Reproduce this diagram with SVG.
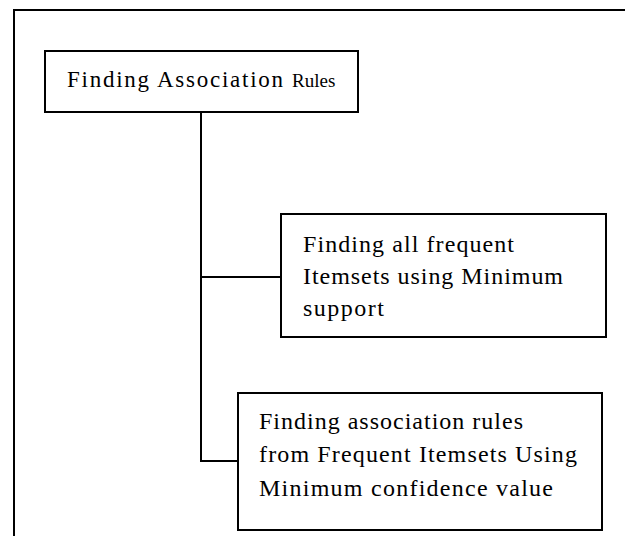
<svg xmlns="http://www.w3.org/2000/svg" width="625" height="536" viewBox="0 0 625 536">
<style>
.box{fill:#fff;stroke:#000;stroke-width:2}
.frame{fill:none;stroke:#000;stroke-width:2}
.conn{fill:none;stroke:#000;stroke-width:2}
.t{font-family:'Liberation Serif','Times New Roman',serif;font-size:24px;fill:#000}
.top{font-size:23px}
.small{font-size:19px}
</style>
<rect width="625" height="536" fill="#fff"/>
<path class="frame" d="M14,545 V10 H630"/>
<g id="connectors">
<path class="conn" d="M201,112 V461 H238"/>
<path class="conn" d="M201,277 H281"/>
</g>
<g id="root">
<rect class="box" x="45" y="51" width="313" height="61"/>
<text class="t top" x="67" y="87"><tspan textLength="216" lengthAdjust="spacing">Finding Association</tspan><tspan class="small" x="292">Rules</tspan></text>
</g>
<g id="frequent">
<rect class="box" x="281" y="214" width="325" height="123"/>
<text class="t" x="303" y="252" textLength="211" lengthAdjust="spacing">Finding all frequent</text>
<text class="t" x="303" y="284" textLength="260" lengthAdjust="spacing">Itemsets using Minimum</text>
<text class="t" x="303" y="316" textLength="81" lengthAdjust="spacing">support</text>
</g>
<g id="rules">
<rect class="box" x="238" y="393" width="364" height="137"/>
<text class="t" x="259" y="429" textLength="264" lengthAdjust="spacing">Finding association rules</text>
<text class="t" x="259" y="462" textLength="318" lengthAdjust="spacing">from Frequent Itemsets Using</text>
<text class="t" x="259" y="496" textLength="294" lengthAdjust="spacing">Minimum  confidence value</text>
</g>
</svg>
